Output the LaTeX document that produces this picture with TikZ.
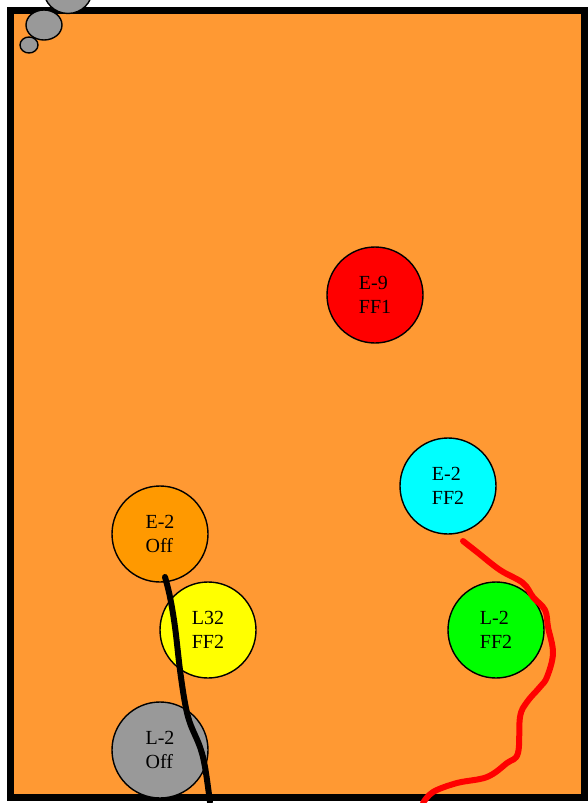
\documentclass[tikz,border=0pt]{standalone}
\usepackage{fontspec}
\setmainfont{Liberation Serif}
\definecolor{bgorange}{HTML}{FF9933}
\definecolor{nodeorange}{HTML}{FF9900}
\definecolor{grayfill}{HTML}{999999}
\definecolor{pureGreen}{HTML}{00FF00}
\definecolor{pureCyan}{HTML}{00FFFF}
\definecolor{pureYellow}{HTML}{FFFF00}
\definecolor{pureRed}{HTML}{FF0000}
\begin{document}
\begin{tikzpicture}[x=1pt,y=-1pt,
  disc/.style={circle, draw=black, line width=1.4pt, minimum size=96pt, inner sep=0pt,
    align=left, font=\fontsize{20}{24}\selectfont},
  bubble/.style={draw=black, line width=1.4pt, fill=grayfill},
  stroke/.style={line width=6pt, line cap=round, line join=round}]
\useasboundingbox (0,0) rectangle (588,803);
\fill[white] (0,0) rectangle (588,803);
\draw[line width=7.5pt, fill=bgorange] (10.5,10.5) rectangle (584.5,797.5);
% thought bubbles
\draw[bubble] (68,-11) circle (24.5);
\draw[bubble] (44,25) ellipse (18 and 15);
\draw[bubble] (29,45) ellipse (9 and 8);
% nodes
\node[disc, fill=pureRed]    (e9)  at (375,295) {E-9\\FF1};
\node[disc, fill=pureCyan]   (e2f) at (448,486) {E-2\\FF2};
\node[disc, fill=nodeorange] (e2o) at (160,534) {E-2\\Off};
\node[disc, fill=pureYellow] (l32) at (208,630) {L32\\FF2};
\node[disc, fill=pureGreen]  (l2f) at (496,630) {L-2\\FF2};
\node[disc, fill=grayfill]   (l2o) at (160,750) {L-2\\Off};
% strokes
\draw[stroke, black] plot[smooth, tension=0.6] coordinates {
  (165,577) (170,597) (175,627) (180,670) (185,703) (190,723) (200,747) (205,767) (210,802)};
\draw[stroke, pureRed] plot[smooth, tension=0.6] coordinates {
  (463,541) (477,552) (500,570) (523,583) (533,597) (545,610) (548,627) (553,653)
  (547,677) (540,687) (527,702) (520,717) (518,753) (507,763) (487,777) (457,783)
  (433,792) (423,803)};
\end{tikzpicture}
\end{document}
